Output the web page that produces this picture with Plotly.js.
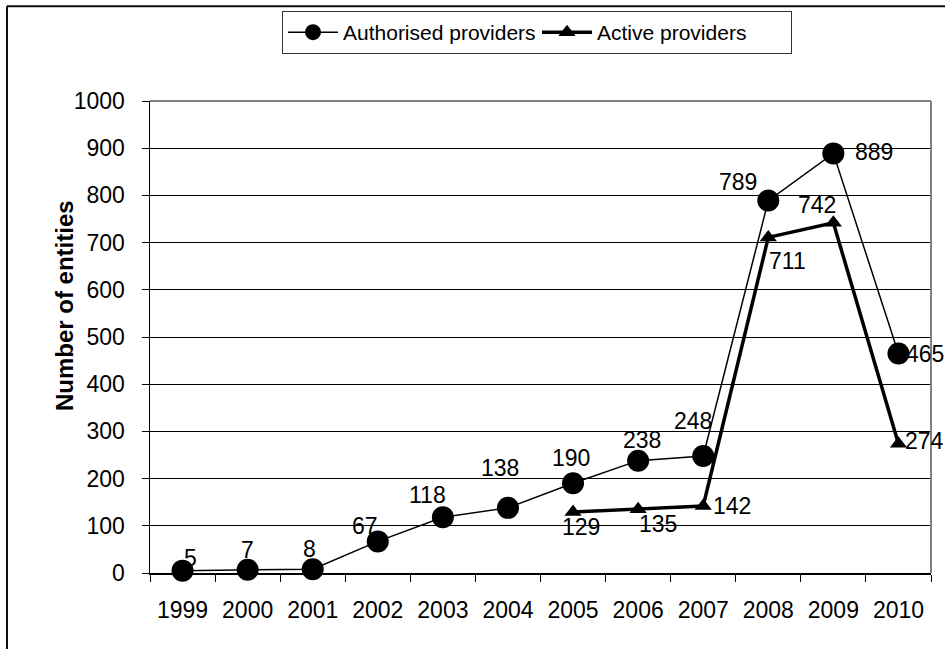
<!DOCTYPE html>
<html>
<head>
<meta charset="utf-8">
<script src="https://cdn.plot.ly/plotly-3.0.1.min.js"></script>
<style>html,body{margin:0;padding:0;background:#fff;}#chart{width:945px;height:649px;}</style>
</head>
<body>
<div id="chart"></div>
<script>
const years = ["1999","2000","2001","2002","2003","2004","2005","2006","2007","2008","2009","2010"];
const authorised = [5, 7, 8, 67, 118, 138, 190, 238, 248, 789, 889, 465];
const activeYears = ["2005","2006","2007","2008","2009","2010"];
const active = [129, 135, 142, 711, 742, 274];
const yTicks = [0,100,200,300,400,500,600,700,800,900,1000];

// label placement offsets (px) – styling only
const authOffsets = [[8,13],[0,20],[-3,20],[-13,15],[-15,22],[-8,40],[-2,25],[4,21],[-10,35],[-30,19],[41,1],[27,0]];
const actOffsets = [[8,-15],[20,-15],[29,0],[19,-24],[-16,18],[26,3]];

const FONT = "Liberation Sans, Arial, sans-serif";
const L = 150, R = 931, T = 100, B = 573;
const px2x = p => (p - L) / (R - L);
const px2y = p => (B - p) / (B - T);

const annotations = [];
years.forEach((yr, i) => {
  annotations.push({x: years.indexOf(yr), y: authorised[i], xref: 'x', yref: 'y', text: String(authorised[i]),
    showarrow: false, xshift: authOffsets[i][0], yshift: authOffsets[i][1],
    font: {family: FONT, size: 23, color: '#000'}});
});
activeYears.forEach((yr, i) => {
  annotations.push({x: years.indexOf(yr), y: active[i], xref: 'x', yref: 'y', text: String(active[i]),
    showarrow: false, xshift: actOffsets[i][0], yshift: actOffsets[i][1],
    font: {family: FONT, size: 23, color: '#000'}});
});
annotations.push({xref: 'paper', yref: 'paper', x: px2x(49), y: px2y(305), text: '<b>Number of entities</b>',
  textangle: -90, showarrow: false, font: {family: FONT, size: 24, color: '#000'}});

const traces = [
  {x: years, y: authorised, name: 'Authorised providers', type: 'scatter', mode: 'lines+markers',
   line: {color: '#000', width: 1.5}, marker: {symbol: 'circle', size: 22, color: '#000'}, cliponaxis: false},
  {x: activeYears, y: active, name: 'Active providers', type: 'scatter', mode: 'lines+markers',
   line: {color: '#000', width: 3.5}, marker: {symbol: 'triangle-up', size: 15, color: '#000'}, cliponaxis: false}
];

const layout = {
  width: 945, height: 649,
  margin: {l: L, r: 945 - R, t: T, b: 649 - B, pad: 0},
  paper_bgcolor: '#fff', plot_bgcolor: '#fff',
  font: {family: FONT, size: 23, color: '#000'},
  showlegend: true,
  legend: {orientation: 'h', x: px2x(282), y: px2y(11), xanchor: 'left', yanchor: 'top',
    bordercolor: '#333', borderwidth: 1, bgcolor: '#fff', font: {family: FONT, size: 21, color: '#000'},
    itemwidth: 50, entrywidth: 189, entrywidthmode: 'pixels', traceorder: 'normal'},
  xaxis: {type: 'category', categoryorder: 'array', categoryarray: years, range: [-0.5, 11.5],
    tickson: 'boundaries', ticks: 'outside', ticklen: 7, tickcolor: '#000', tickwidth: 1,
    showline: true, linecolor: '#000', linewidth: 1.5, showgrid: false, zeroline: false,
    ticklabelstandoff: 16, tickfont: {family: FONT, size: 23, color: '#000'}, fixedrange: true},
  yaxis: {range: [0, 1000], tickvals: yTicks, ticktext: yTicks.map(String), ticks: 'outside', ticklen: 7,
    tickcolor: '#000', tickwidth: 1, showline: true, linecolor: '#000', linewidth: 1.5,
    showgrid: true, gridcolor: '#000', gridwidth: 1, zeroline: false,
    ticklabelstandoff: 12, tickfont: {family: FONT, size: 23, color: '#000'}, fixedrange: true},
  annotations: annotations,
  shapes: [
    {type: 'line', xref: 'paper', yref: 'paper', x0: 0, x1: 1, y0: 1, y1: 1, line: {color: '#808080', width: 2}},
    {type: 'line', xref: 'paper', yref: 'paper', x0: 1, x1: 1, y0: 0, y1: 1, line: {color: '#808080', width: 2}},
    {type: 'line', xref: 'paper', yref: 'paper', x0: px2x(7), x1: px2x(960), y0: px2y(5), y1: px2y(5), line: {color: '#111', width: 2}},
    {type: 'line', xref: 'paper', yref: 'paper', x0: px2x(7), x1: px2x(7), y0: px2y(5), y1: px2y(680), line: {color: '#111', width: 2}}
  ]
};

Plotly.newPlot('chart', traces, layout, {staticPlot: true, displayModeBar: false});
</script>
</body>
</html>
